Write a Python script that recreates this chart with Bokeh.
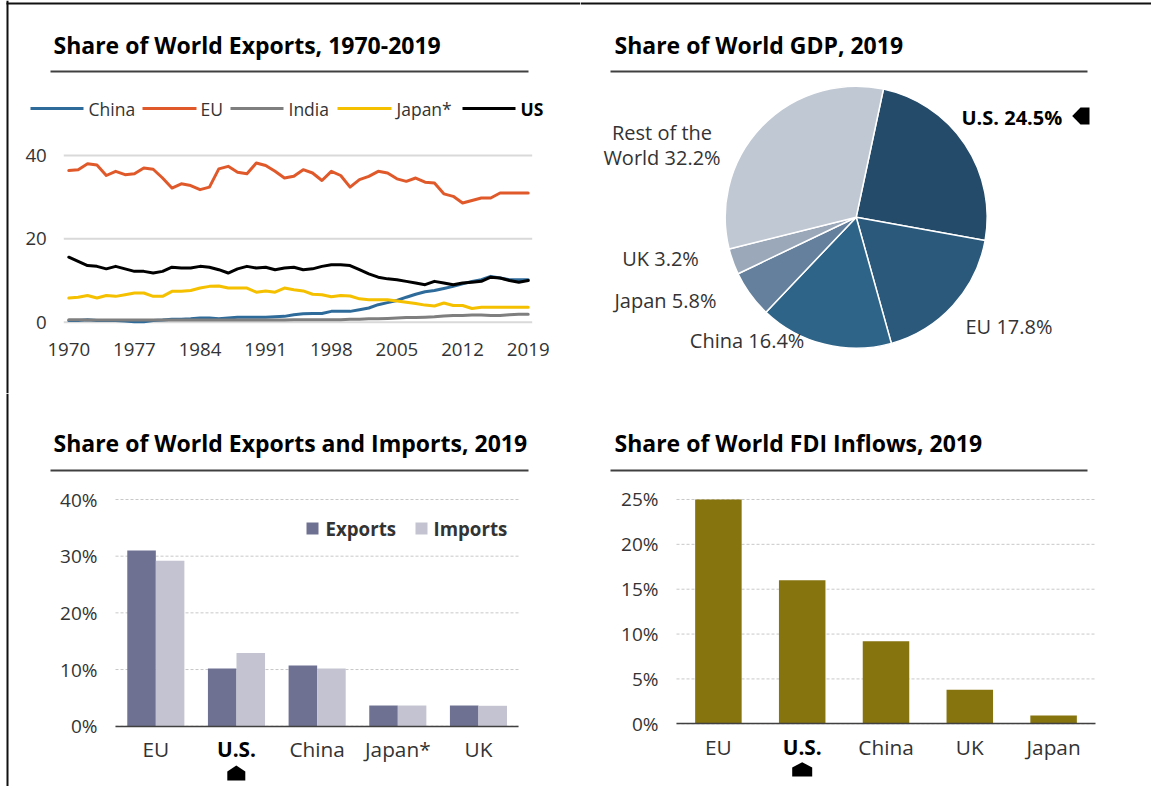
import numpy as np
from bokeh.plotting import figure
from bokeh.models import (Range1d, FixedTicker, PrintfTickFormatter, CustomJSTickFormatter, Label,
                          BoxAnnotation, PolyAnnotation, ColumnDataSource, LinearAxis)
from bokeh.transform import dodge
from bokeh.layouts import row, column
from bokeh.embed import file_html
from bokeh.resources import INLINE

# ---------------- data ----------------
years = list(range(1970, 2020))
china = [0.4, 0.4, 0.6, 0.4, 0.4, 0.4, 0.3, 0.1, 0.1, 0.4,
         0.5, 0.7, 0.7, 0.8, 1.0, 1.0, 0.8, 1.0, 1.2, 1.2,
         1.2, 1.2, 1.3, 1.4, 1.8, 2.0, 2.1, 2.1, 2.6, 2.6,
         2.6, 3.0, 3.4, 4.2, 4.7, 5.2, 6.0, 6.7, 7.3, 7.6,
         8.1, 8.6, 9.2, 9.8, 10.2, 11.0, 10.6, 10.2, 10.2, 10.2]
eu = [36.4, 36.6, 38.0, 37.7, 35.2, 36.2, 35.4, 35.6, 37.0, 36.7,
      34.6, 32.2, 33.2, 32.8, 31.8, 32.4, 36.8, 37.4, 36.0, 35.6,
      38.2, 37.6, 36.2, 34.6, 35.0, 36.6, 35.8, 34.0, 36.2, 35.2,
      32.4, 34.2, 35.0, 36.2, 35.8, 34.4, 33.8, 34.6, 33.6, 33.4,
      30.8, 30.2, 28.6, 29.2, 29.8, 29.8, 31.0, 31.0, 31.0, 31.0]
india = [0.6, 0.6, 0.5, 0.5, 0.5, 0.5, 0.5, 0.5, 0.5, 0.5,
         0.5, 0.5, 0.5, 0.5, 0.5, 0.5, 0.5, 0.5, 0.5, 0.5,
         0.5, 0.5, 0.5, 0.5, 0.6, 0.6, 0.6, 0.6, 0.6, 0.6,
         0.7, 0.7, 0.8, 0.8, 0.9, 1.0, 1.1, 1.1, 1.2, 1.3,
         1.5, 1.6, 1.6, 1.7, 1.7, 1.6, 1.6, 1.8, 1.9, 1.9]
japan = [5.8, 6.0, 6.4, 5.8, 6.4, 6.2, 6.6, 7.0, 7.0, 6.2,
         6.2, 7.4, 7.4, 7.6, 8.2, 8.6, 8.7, 8.2, 8.2, 8.2,
         7.2, 7.5, 7.2, 8.2, 7.8, 7.5, 6.7, 6.6, 6.1, 6.4,
         6.3, 5.6, 5.4, 5.4, 5.4, 5.1, 4.8, 4.5, 4.1, 3.9,
         4.6, 4.0, 4.0, 3.3, 3.6, 3.6, 3.6, 3.6, 3.6, 3.6]
us = [15.6, 14.6, 13.6, 13.4, 12.8, 13.4, 12.8, 12.2, 12.2, 11.8,
      12.2, 13.2, 13.0, 13.0, 13.4, 13.2, 12.6, 11.8, 12.8, 13.4,
      13.0, 13.2, 12.6, 13.0, 13.2, 12.6, 12.8, 13.4, 13.8, 13.8,
      13.6, 12.6, 11.6, 10.8, 10.4, 10.2, 9.8, 9.4, 9.0, 9.8,
      9.4, 9.0, 9.4, 9.6, 9.8, 10.8, 10.6, 10.0, 9.6, 10.0]
series_names = ["China", "EU", "India", "Japan*", "US"]
series_values = [china, eu, india, japan, us]
series_colors = ["#2f6b9a", "#e0592a", "#7f7f7f", "#f4c000", "#000000"]
year_ticks = [1970, 1977, 1984, 1991, 1998, 2005, 2012, 2019]
export_ticks = [0, 20, 40]

gdp_names = ["U.S.", "EU", "China", "Japan", "UK", "Rest of the World"]
gdp_share = [24.5, 17.8, 16.4, 5.8, 3.2, 32.2]
gdp_colors = ["#244b69", "#2b597c", "#2e6488", "#64809c", "#9aa8b9", "#c0c8d3"]

trade_countries = ["EU", "U.S.", "China", "Japan*", "UK"]
exports_2019 = [31.0, 10.2, 10.7, 3.65, 3.65]
imports_2019 = [29.2, 12.9, 10.2, 3.65, 3.6]
trade_ticks = [0, 10, 20, 30, 40]

fdi_countries = ["EU", "U.S.", "China", "UK", "Japan"]
fdi_share = [25.0, 16.0, 9.2, 3.8, 0.93]
fdi_ticks = [0, 5, 10, 15, 20, 25]

FONT = "Open Sans"
TXT = "#333333"
TITLE_PX = 23

# ---------------- helpers (positions in page px, converted to each canvas) ----------------
def clabel(fig, org, x, y, text, size, bold=False, align="left", color=TXT):
    fig.add_layout(Label(x=x - org[0], y=y - org[1], x_units="canvas", y_units="canvas",
                         text=text, text_font=FONT, text_font_size=f"{size}px",
                         text_font_style="bold" if bold else "normal",
                         text_align=align, text_baseline="middle", text_color=color))

def cbox(fig, org, x0, x1, y0, y1, color):
    fig.add_layout(BoxAnnotation(left=x0 - org[0], right=x1 - org[0],
                                 top=y0 - org[1], bottom=y1 - org[1],
                                 left_units="canvas", right_units="canvas",
                                 top_units="canvas", bottom_units="canvas",
                                 fill_color=color, fill_alpha=1, line_color=None))

def cpoly(fig, org, xs, ys, color):
    fig.add_layout(PolyAnnotation(xs=[x - org[0] for x in xs], ys=[y - org[1] for y in ys],
                                  xs_units="canvas", ys_units="canvas",
                                  fill_color=color, fill_alpha=1, line_color=None))

def frame_lines(fig, fx, fy, segs, color="#111111"):
    # page border strokes (decoration), converted from page px to data coords
    fig.segment(x0=[fx(s[0]) for s in segs], y0=[fy(s[1]) for s in segs],
                x1=[fx(s[2]) for s in segs], y1=[fy(s[3]) for s in segs],
                line_color=color, line_width=2)

def base_fig(w, h, xr, yr):
    p = figure(output_backend="svg", toolbar_location=None, frame_width=w, frame_height=h,
               min_border=0, x_range=xr, y_range=yr)
    p.outline_line_color = None
    p.background_fill_color = "white"
    p.border_fill_color = "white"
    p.grid.visible = False
    return p

def style_axis(ax, size, standoff):
    ax.major_label_text_font = FONT
    ax.major_label_text_font_size = f"{size}px"
    ax.major_label_text_color = TXT
    ax.major_tick_line_color = None
    ax.minor_tick_line_color = None
    ax.major_tick_out = 0
    ax.major_tick_in = 0
    ax.major_label_standoff = standoff

# ---------------- panel 1: line chart ----------------
O1 = (0, 0)
W1, H1 = 580, 393
px_yr, px_u = 9.3755, 4.1675          # pixel scale of the plot area
x0_px, y0_px = 68.3, 321.7            # where 1970 / 0 sit on the canvas
p1 = base_fig(W1, H1,
              Range1d(years[0] - x0_px / px_yr, years[0] + (W1 - x0_px) / px_yr),
              Range1d(-(H1 - y0_px) / px_u, y0_px / px_u))
fx1 = lambda px: years[0] + (px - x0_px) / px_yr
fy1 = lambda py: (y0_px - py) / px_u
frame_lines(p1, fx1, fy1, [(7, 0, 7, 393), (6, 3, 580, 3)])
plot_lo, plot_hi = fx1(63.3), fx1(531.7)
p1.segment(x0=plot_lo, x1=plot_hi, y0=export_ticks, y1=export_ticks,
           line_color="#d9d9d9", line_width=2)
for name, vals, col in zip(series_names, series_values, series_colors):
    p1.line(years, vals, line_width=3, line_color=col, line_join="round", line_cap="round")
p1.xaxis.ticker = FixedTicker(ticks=year_ticks)
p1.yaxis.ticker = FixedTicker(ticks=export_ticks)
p1.xaxis.fixed_location = 0
p1.yaxis.fixed_location = plot_lo
p1.xaxis.axis_line_color = None
p1.yaxis.axis_line_color = None
style_axis(p1.xaxis[0], 18.7, 21)
style_axis(p1.yaxis[0], 18.7, 17)

clabel(p1, O1, 53, 44.5, "Share of World Exports, 1970-2019", TITLE_PX, bold=True, color="#000000")
cbox(p1, O1, 50, 528, 70, 72, "#404040")
leg_lines = [(30, 83), (142, 196), (230, 283), (337, 391), (462, 515)]
leg_text_x = [88, 200, 288, 396, 520]
for (a, b), tx, name, col in zip(leg_lines, leg_text_x, series_names, series_colors):
    cbox(p1, O1, a, b, 106.5, 109.5, col)
    clabel(p1, O1, tx, 108, name, 17.5, bold=(name == "US"),
           color="#000000" if name == "US" else TXT)

# ---------------- panel 2: pie ----------------
O2 = (580, 0)
W2, H2 = 571, 393
R = 131.0
cx, cy = 855.7, 216.7
p2 = base_fig(W2, H2,
              Range1d((O2[0] - cx) / R, (O2[0] + W2 - cx) / R),
              Range1d((cy - H2) / R, cy / R))
p2.axis.visible = False
frame_lines(p2, lambda px: (px - cx) / R, lambda py: (cy - py) / R, [(580, 3, 1151, 3)])
tot = float(sum(gdp_share))
cum = np.concatenate([[0.0], np.cumsum(np.array(gdp_share) / tot)])
a0 = np.deg2rad(90 - 12)
src2 = ColumnDataSource(dict(start=list(a0 - cum[:-1] * 2 * np.pi),
                             end=list(a0 - cum[1:] * 2 * np.pi),
                             color=gdp_colors, name=gdp_names, share=gdp_share))
p2.wedge(x=0, y=0, radius=1.0, start_angle="start", end_angle="end", direction="clock",
         fill_color="color", line_color="white", line_width=1.5, source=src2)

clabel(p2, O2, 614, 44.5, "Share of World GDP, 2019", TITLE_PX, bold=True, color="#000000")
cbox(p2, O2, 610, 1087, 70, 72, "#404040")
gl = {n: f"{n} {v}%" for n, v in zip(gdp_names, gdp_share)}
clabel(p2, O2, 961, 116.5, gl["U.S."], 20, bold=True, color="#000000")
cpoly(p2, O2, [1071.7, 1080, 1089, 1089, 1080], [115.5, 107, 107, 124, 124], "#000000")
clabel(p2, O2, 661.5, 131.7, "Rest of the", 20, align="center")
clabel(p2, O2, 661.5, 157, f"World {gdp_share[5]}%", 20, align="center")
clabel(p2, O2, 621.7, 258.3, gl["UK"], 20)
clabel(p2, O2, 614, 300, gl["Japan"], 20)
clabel(p2, O2, 689.3, 340, gl["China"], 20)
clabel(p2, O2, 965, 326, gl["EU"], 20)

# ---------------- bar chart helper ----------------
def bar_panel(org, W, H, names, plot_left, cat_px, zero_px, px_pct, ticks):
    n = len(names)
    xr = Range1d(-(plot_left - org[0]) / cat_px, (org[0] + W - plot_left) / cat_px)
    yr = Range1d(-(org[1] + H - zero_px) / px_pct, (zero_px - org[1]) / px_pct)
    p = base_fig(W, H, xr, yr)
    fx = lambda px: (px - plot_left) / cat_px
    fy = lambda py: (zero_px - py) / px_pct
    pos = [i + 0.5 for i in range(n)]
    p.segment(x0=0, x1=n, y0=ticks, y1=ticks, line_color="#c8c8c8", line_width=1,
              line_dash="3 2")
    fmt = CustomJSTickFormatter(args=dict(names=names),
                                code="return names[Math.round(tick - 0.5)];")
    us_i = names.index("U.S.")
    xa = p.xaxis[0]
    xa.ticker = FixedTicker(ticks=[q for i, q in enumerate(pos) if i != us_i])
    xa.formatter = fmt
    xa.fixed_location = 0
    xa.bounds = (0, n)
    xa.axis_line_color = "#404040"
    xa.axis_line_width = 1.5
    style_axis(xa, 20.8, 9)
    xb = LinearAxis(ticker=FixedTicker(ticks=[pos[us_i]]), formatter=fmt, fixed_location=0,
                    axis_line_color=None)
    style_axis(xb, 20.8, 9)
    xb.major_label_text_font_style = "bold"
    xb.major_label_text_color = "#000000"
    p.add_layout(xb, "below")
    ya = p.yaxis[0]
    ya.ticker = FixedTicker(ticks=ticks)
    ya.formatter = PrintfTickFormatter(format="%d%%")
    ya.fixed_location = 0
    ya.axis_line_color = None
    style_axis(ya, 19, 18)
    return p, pos, fx, fy

# ---------------- panel 3: exports / imports ----------------
O3 = (0, 393)
p3, pos3, fx3, fy3 = bar_panel(O3, 580, 393, trade_countries, 115.0, 80.66, 725.7, 5.6675, trade_ticks)
frame_lines(p3, fx3, fy3, [(7, 393, 7, 786)])
src3 = ColumnDataSource(dict(x=pos3, exp=exports_2019, imp=imports_2019))
p3.vbar(x=dodge("x", -0.177), top="exp", width=0.354, source=src3,
        fill_color="#6e7191", line_color=None)
p3.vbar(x=dodge("x", 0.177), top="imp", width=0.354, source=src3,
        fill_color="#c3c3d1", line_color=None)

clabel(p3, O3, 53, 442.5, "Share of World Exports and Imports, 2019", TITLE_PX, bold=True, color="#000000")
cbox(p3, O3, 50, 528, 469, 471, "#404040")
cbox(p3, O3, 306, 318, 522, 534, "#6e7191")
clabel(p3, O3, 325, 528, "Exports", 18.7, bold=True)
cbox(p3, O3, 415, 427, 522, 534, "#c3c3d1")
clabel(p3, O3, 433, 528, "Imports", 18.7, bold=True)
cpoly(p3, O3, [226.8, 235.8, 244.8, 244.8, 226.8], [771, 765, 771, 780, 780], "#000000")

# ---------------- panel 4: FDI ----------------
O4 = (580, 393)
p4, pos4, fx4, fy4 = bar_panel(O4, 571, 393, fdi_countries, 676.0, 83.8, 723.3, 8.973, fdi_ticks)
src4 = ColumnDataSource(dict(x=pos4, val=fdi_share))
p4.vbar(x="x", top="val", width=0.555, source=src4, fill_color="#86740f", line_color=None)

clabel(p4, O4, 614, 442.5, "Share of World FDI Inflows, 2019", TITLE_PX, bold=True, color="#000000")
cbox(p4, O4, 610, 1087, 469, 471, "#404040")
cpoly(p4, O4, [791.7, 801.7, 811.7, 811.7, 791.7], [767, 761.7, 767, 776, 776], "#000000")

layout = column(row(p1, p2, spacing=0), row(p3, p4, spacing=0), spacing=0)
open("out.html", "w").write(file_html(layout, INLINE))
